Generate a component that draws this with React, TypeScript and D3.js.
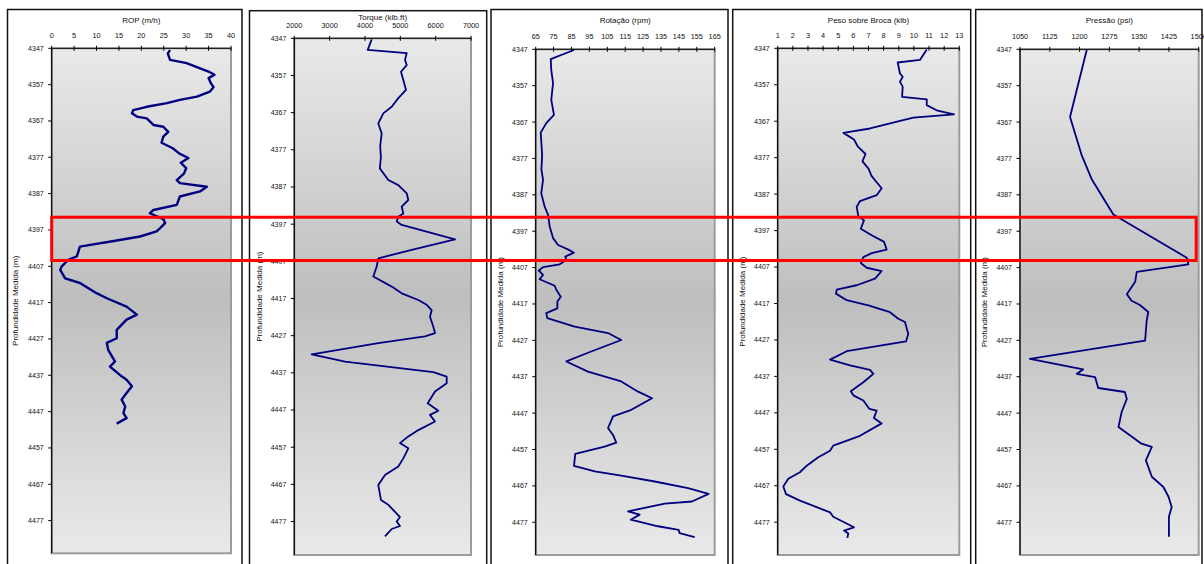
import React, { useEffect, useRef } from 'react';
import * as d3 from 'd3';

// depth axis shared by all tracks
const depthDomain = [4347, 4486];
const depthTicks = [4347, 4357, 4367, 4377, 4387, 4397, 4407, 4417, 4427, 4437, 4447, 4457, 4467, 4477];

const ropTicks = [0, 5, 10, 15, 20, 25, 30, 35, 40];
const ropDepth = [4347.5, 4348.4, 4350.2, 4351.1, 4352.5, 4353.4, 4354.3, 4355.2, 4356.6, 4357.7, 4358.9, 4360.3, 4361.2, 4362.1, 4363.1, 4364.0, 4364.9, 4365.8, 4366.3, 4368.1, 4368.6, 4370.0, 4371.3, 4373.0, 4374.5, 4376.0, 4377.2, 4378.5, 4380.0, 4381.5, 4383.3, 4384.1, 4385.1, 4386.4, 4387.8, 4390.1, 4391.5, 4392.4, 4394.0, 4395.1, 4396.5, 4397.4, 4398.8, 4399.9, 4401.6, 4404.3, 4405.2, 4407.1, 4408.0, 4410.3, 4411.6, 4414.4, 4415.8, 4418.1, 4420.3, 4421.7, 4424.5, 4426.8, 4428.1, 4430.0, 4433.2, 4434.6, 4437.3, 4438.2, 4440.0, 4441.9, 4443.7, 4445.6, 4447.4, 4448.8, 4450.3];
const ropValue = [26.4, 25.9, 26.4, 30.1, 33.1, 35.0, 36.3, 35.0, 35.5, 36.1, 35.3, 32.4, 28.6, 25.7, 21.2, 18.2, 17.9, 19.0, 21.2, 22.7, 24.9, 26.0, 24.9, 24.5, 27.0, 28.5, 30.5, 28.8, 30.0, 29.5, 27.9, 28.6, 34.6, 33.1, 28.6, 27.9, 22.7, 21.9, 24.9, 25.3, 24.2, 23.4, 19.7, 14.5, 6.3, 5.6, 3.7, 2.2, 1.9, 3.0, 6.3, 10.0, 12.3, 16.7, 19.0, 16.7, 14.5, 14.5, 12.3, 12.6, 14.1, 13.0, 15.6, 16.7, 17.9, 16.7, 15.6, 16.4, 16.0, 16.7, 14.5];

const torqueTicks = [2000, 3000, 4000, 5000, 6000, 7000];
const torqueDepth = [4347.3, 4350.1, 4351.0, 4352.8, 4354.2, 4356.0, 4358.2, 4360.9, 4363.1, 4365.4, 4367.2, 4369.9, 4372.6, 4376.0, 4379.0, 4382.0, 4385.1, 4386.5, 4388.7, 4390.5, 4392.3, 4394.1, 4395.0, 4396.3, 4397.2, 4401.1, 4403.9, 4406.2, 4408.4, 4411.1, 4413.8, 4415.6, 4417.4, 4418.7, 4420.1, 4421.9, 4424.6, 4426.3, 4427.2, 4429.0, 4432.0, 4434.0, 4436.8, 4438.0, 4439.8, 4442.0, 4445.2, 4447.2, 4448.3, 4450.1, 4452.4, 4454.1, 4455.9, 4457.3, 4460.0, 4462.2, 4464.5, 4467.2, 4471.2, 4472.5, 4475.8, 4477.0, 4478.2, 4479.0, 4481.0];
const torqueValue = [4190, 4077, 5181, 5132, 5181, 5019, 5085, 5161, 4943, 4756, 4519, 4377, 4473, 4430, 4450, 4420, 4660, 4943, 5181, 5226, 5039, 5085, 4943, 4898, 5039, 6548, 5322, 4377, 4331, 4236, 4756, 5039, 5509, 5746, 5887, 5840, 5934, 5982, 5699, 4377, 2492, 3435, 5934, 6312, 6312, 5982, 5775, 6075, 5840, 5982, 5509, 5226, 4991, 5226, 5085, 4943, 4566, 4377, 4453, 4660, 4991, 4898, 4991, 4756, 4566];

const rpmTicks = [65, 75, 85, 95, 105, 115, 125, 135, 145, 155, 165];
const rpmDepth = [4347.2, 4349.7, 4352.7, 4356.3, 4360.9, 4365.0, 4367.3, 4369.9, 4376.0, 4380.0, 4382.9, 4386.6, 4390.2, 4392.5, 4395.7, 4398.9, 4400.8, 4402.0, 4402.9, 4404.0, 4404.9, 4406.1, 4406.9, 4407.8, 4409.0, 4410.2, 4412.0, 4413.1, 4415.0, 4416.3, 4418.2, 4419.5, 4420.9, 4423.2, 4425.0, 4426.9, 4430.4, 4432.8, 4435.6, 4438.3, 4441.1, 4442.9, 4446.1, 4447.9, 4451.1, 4453.0, 4455.1, 4456.2, 4458.2, 4461.5, 4463.0, 4464.2, 4465.8, 4467.6, 4469.2, 4471.3, 4471.9, 4474.0, 4474.9, 4476.3, 4478.1, 4479.1, 4480.0, 4481.1];
const rpmValue = [86.4, 73.4, 73.7, 74.7, 73.7, 75.2, 70.9, 67.8, 68.6, 68.2, 69.1, 68.1, 70.0, 71.9, 72.8, 74.7, 77.5, 83.0, 86.4, 81.5, 82.1, 78.4, 69.1, 66.7, 69.1, 67.2, 75.6, 76.5, 79.0, 77.1, 77.1, 70.9, 71.5, 86.8, 105.4, 112.8, 94.2, 82.1, 94.2, 112.8, 122.2, 130.0, 118.4, 108.2, 105.4, 108.2, 110.0, 103.5, 87.1, 86.4, 98.0, 112.8, 131.5, 150.1, 161.6, 152.3, 137.1, 116.6, 123.1, 118.1, 133.3, 144.9, 145.4, 153.8];

const wobTicks = [1, 2, 3, 4, 5, 6, 7, 8, 9, 10, 11, 12, 13];
const wobDepth = [4347.3, 4350.2, 4350.9, 4353.9, 4354.8, 4356.2, 4357.5, 4360.3, 4361.0, 4362.6, 4364.0, 4365.1, 4366.0, 4369.0, 4370.2, 4372.0, 4374.0, 4376.0, 4378.0, 4380.0, 4382.0, 4383.2, 4385.4, 4387.3, 4388.9, 4390.5, 4393.1, 4394.2, 4396.5, 4398.3, 4400.1, 4402.2, 4403.2, 4404.3, 4405.9, 4407.2, 4408.1, 4410.2, 4412.0, 4413.2, 4414.3, 4416.1, 4417.5, 4419.4, 4421.2, 4422.1, 4423.9, 4425.3, 4427.4, 4430.1, 4432.4, 4434.0, 4435.2, 4436.3, 4438.6, 4441.1, 4442.2, 4443.6, 4445.9, 4446.4, 4448.4, 4449.9, 4453.3, 4456.0, 4457.4, 4459.2, 4461.5, 4463.3, 4465.1, 4467.2, 4469.3, 4471.1, 4474.3, 4475.5, 4478.4, 4479.3, 4480.1, 4481.3];
const wobValue = [10.85, 10.4, 8.93, 9.08, 9.26, 9.08, 9.26, 9.22, 10.85, 10.85, 11.5, 12.65, 9.96, 7.1, 5.34, 6.04, 6.3, 6.8, 6.6, 7.0, 7.2, 7.43, 7.87, 7.54, 6.44, 6.22, 6.33, 6.7, 6.49, 7.21, 8.03, 8.2, 7.21, 6.66, 6.49, 6.88, 7.87, 7.43, 6.22, 4.9, 4.85, 5.56, 6.99, 8.42, 8.97, 9.41, 9.53, 9.63, 9.48, 5.56, 4.46, 5.78, 7.1, 7.32, 6.66, 5.83, 6.0, 6.66, 7.05, 7.54, 7.36, 7.87, 6.44, 4.67, 4.46, 3.68, 2.92, 2.47, 1.7, 1.37, 1.55, 2.47, 4.46, 4.67, 6.04, 5.38, 5.67, 5.6];

const pressTicks = [1050, 1125, 1200, 1275, 1350, 1425, 1500];
const pressDepth = [4347.2, 4365.6, 4376.0, 4382.8, 4392.4, 4404.3, 4406.1, 4408.2, 4410.9, 4414.3, 4416.1, 4417.3, 4419.2, 4421.6, 4427.1, 4432.1, 4435.0, 4436.2, 4437.1, 4440.1, 4441.2, 4443.1, 4446.7, 4450.8, 4455.4, 4456.3, 4460.0, 4464.5, 4467.3, 4470.0, 4472.8, 4475.5, 4481.0];
const pressValue = [1218, 1176, 1205, 1231, 1285, 1470, 1474, 1344, 1340, 1319, 1331, 1352, 1373, 1369, 1365, 1075, 1209, 1193, 1239, 1247, 1314, 1319, 1306, 1298, 1356, 1382, 1367, 1382, 1411, 1424, 1432, 1425, 1425];

// highlighted interval (red box)
const highlightDepth = [4393.5, 4405.4];

const depthLabel = 'Profundidade Medida (m)';

const tracks = [
  { title: 'ROP (m/h)', depth: ropDepth, values: ropValue, domain: [0, 40], ticks: ropTicks, width: 2.4,
    box: { ox0: 7.5, ox1: 242, oy0: 9.5, x0: 51.7, x1: 231, y0: 48.3, y1: 553.3, titleY: 22.5, labelX: 15 } },
  { title: 'Torque (klb.ft)', depth: torqueDepth, values: torqueValue, domain: [2000, 7000], ticks: torqueTicks, width: 1.8,
    box: { ox0: 249.5, ox1: 486.7, oy0: 10.7, x0: 294.3, x1: 471, y0: 38.3, y1: 555, titleY: 19.5, labelX: 259 } },
  { title: 'Rotação (rpm)', depth: rpmDepth, values: rpmValue, domain: [65, 165], ticks: rpmTicks, width: 1.8,
    box: { ox0: 491, ox1: 728, oy0: 9.5, x0: 535.7, x1: 714.7, y0: 49.3, y1: 555, titleY: 23, labelX: 500 } },
  { title: 'Peso sobre Broca (klb)', depth: wobDepth, values: wobValue, domain: [1, 13], ticks: wobTicks, width: 1.8,
    box: { ox0: 732.7, ox1: 970.7, oy0: 9.5, x0: 777.7, x1: 959.3, y0: 48.3, y1: 555, titleY: 22.5, labelX: 742 } },
  { title: 'Pressão (psi)', depth: pressDepth, values: pressValue, domain: [1050, 1500], ticks: pressTicks, width: 1.8,
    box: { ox0: 975.7, ox1: 1202, oy0: 9.5, x0: 1020, x1: 1198.7, y0: 49.3, y1: 555, titleY: 23, labelX: 984 } },
];

const drawChart = (el: SVGSVGElement) => {
  const svg = d3.select(el);
  svg.selectAll('*').remove();

  const grad = svg.append('defs').append('linearGradient')
    .attr('id', 'plotGrad')
    .attr('x1', 0).attr('y1', 0).attr('x2', 0).attr('y2', 1);
  grad.append('stop').attr('offset', '0%').attr('stop-color', '#e9e9e9');
  grad.append('stop').attr('offset', '50%').attr('stop-color', '#bebebe');
  grad.append('stop').attr('offset', '100%').attr('stop-color', '#e9e9e9');

  const font = "'Liberation Sans', Arial, sans-serif";

  tracks.forEach((t) => {
    const b = t.box;
    const x = d3.scaleLinear().domain(t.domain).range([b.x0, b.x1]);
    const y = d3.scaleLinear().domain(depthDomain).range([b.y0, b.y1]);
    const g = svg.append('g').style('font-family', font);

    // chart frame
    g.append('rect')
      .attr('x', b.ox0).attr('y', b.oy0)
      .attr('width', b.ox1 - b.ox0).attr('height', 580)
      .attr('fill', 'white').attr('stroke', '#111').attr('stroke-width', 1.5);

    // plot area
    g.append('rect')
      .attr('x', b.x0).attr('y', b.y0)
      .attr('width', b.x1 - b.x0).attr('height', b.y1 - b.y0)
      .attr('fill', 'url(#plotGrad)').attr('stroke', '#9c9c9c').attr('stroke-width', 2);

    // top axis
    g.append('line')
      .attr('x1', b.x0).attr('x2', b.x1).attr('y1', b.y0).attr('y2', b.y0)
      .attr('stroke', '#000').attr('stroke-width', 1);
    g.selectAll('.xt').data(t.ticks).enter().append('line')
      .attr('x1', (d) => x(d)).attr('x2', (d) => x(d))
      .attr('y1', b.y0 - 2.5).attr('y2', b.y0 + 2.5)
      .attr('stroke', '#000').attr('stroke-width', 1);
    g.selectAll('.xl').data(t.ticks).enter().append('text')
      .attr('x', (d) => x(d)).attr('y', b.y0 - 10)
      .attr('text-anchor', 'middle').attr('font-size', 7.3).attr('fill', '#111')
      .text((d) => String(d));

    // left axis
    g.append('line')
      .attr('x1', b.x0).attr('x2', b.x0).attr('y1', b.y0).attr('y2', b.y1)
      .attr('stroke', '#000').attr('stroke-width', 1.2);
    g.selectAll('.yt').data(depthTicks).enter().append('line')
      .attr('x1', b.x0 - 3.5).attr('x2', b.x0)
      .attr('y1', (d) => y(d)).attr('y2', (d) => y(d))
      .attr('stroke', '#000').attr('stroke-width', 1);
    g.selectAll('.yl').data(depthTicks).enter().append('text')
      .attr('x', b.x0 - 8).attr('y', (d) => y(d)).attr('dy', '0.35em')
      .attr('text-anchor', 'end').attr('font-size', 7).attr('fill', '#111')
      .text((d) => String(d));

    // titles
    g.append('text')
      .attr('x', (b.x0 + b.x1) / 2).attr('y', b.titleY)
      .attr('text-anchor', 'middle').attr('font-size', 8).attr('fill', '#111')
      .text(t.title);
    g.append('text')
      .attr('transform', `translate(${b.labelX},${(b.y0 + b.y1) / 2}) rotate(-90)`)
      .attr('dy', '0.35em')
      .attr('text-anchor', 'middle').attr('font-size', 8).attr('fill', '#111')
      .text(depthLabel);

    // curve
    const line = d3.line<number>()
      .x((d) => x(d))
      .y((d, i) => y(t.depth[i]));
    g.append('path')
      .datum(t.values)
      .attr('d', line)
      .attr('fill', 'none')
      .attr('stroke', '#000080')
      .attr('stroke-width', t.width)
      .attr('stroke-linejoin', 'round');
  });

  // red highlight box spanning all tracks
  const first = tracks[0].box;
  const last = tracks[tracks.length - 1].box;
  const yFirst = d3.scaleLinear().domain(depthDomain).range([first.y0, first.y1]);
  svg.append('rect')
    .attr('x', first.x0)
    .attr('y', yFirst(highlightDepth[0]))
    .attr('width', last.x1 - 2.5 - first.x0)
    .attr('height', yFirst(highlightDepth[1]) - yFirst(highlightDepth[0]))
    .attr('fill', 'none')
    .attr('stroke', '#ff0000')
    .attr('stroke-width', 3);
};

export default function App() {
  const ref = useRef<SVGSVGElement>(null);
  useEffect(() => {
    if (ref.current) drawChart(ref.current);
  }, []);

  return (
    <div style={{ position: 'absolute', left: 0, top: 0 }}>
      <svg ref={ref} width={1204} height={564} style={{ display: 'block', background: 'white' }} />
    </div>
  );
}
